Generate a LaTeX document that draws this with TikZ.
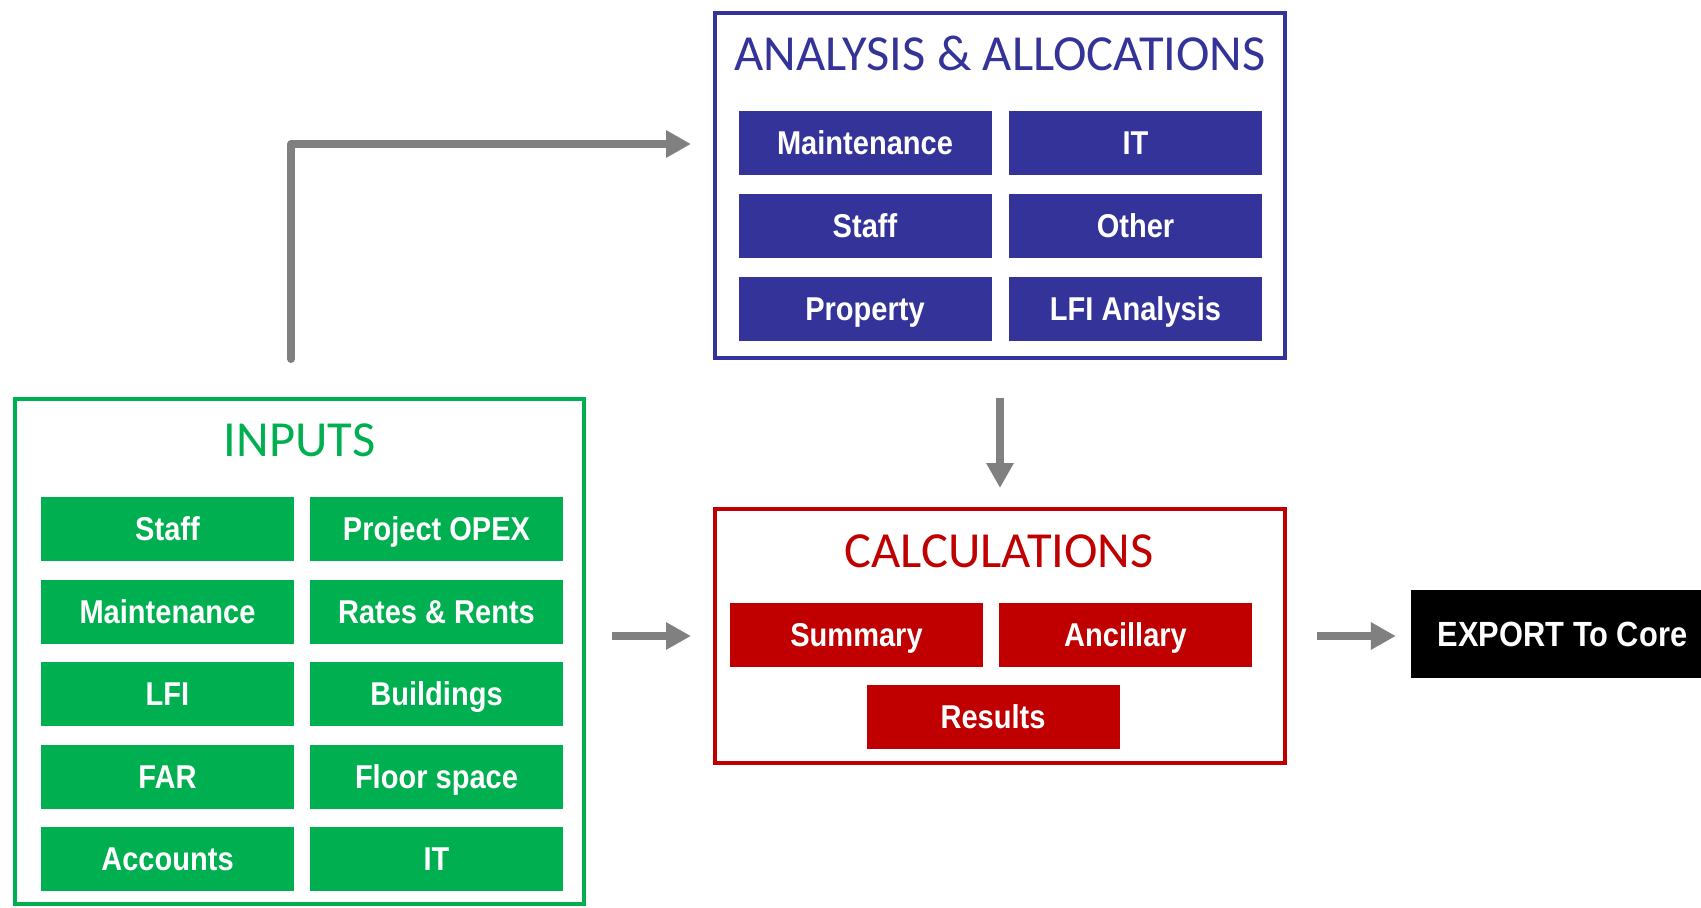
\documentclass[tikz,border=0pt]{standalone}
\usepackage{fontspec}
\setmainfont{Liberation Sans}
\newfontfamily\titlefont{Carlito}
\newfontfamily\cellfont[FakeStretch=0.88]{Liberation Sans}
\usetikzlibrary{arrows.meta}
\definecolor{ingreen}{HTML}{00B050}
\definecolor{anblue}{HTML}{333399}
\definecolor{calcred}{HTML}{C00000}
\definecolor{arrgray}{HTML}{808080}
\tikzset{
  frame/.style={draw, line width=4pt, fill=white, inner sep=0pt},
  cell/.style={inner sep=0pt, minimum width=253pt, minimum height=64pt, text=white,
    text height=23.6pt, text depth=0pt,
    font=\cellfont\bfseries\fontsize{33}{36}\selectfont},
  gcell/.style={cell, fill=ingreen},
  bcell/.style={cell, fill=anblue},
  rcell/.style={cell, fill=calcred},
  ttl/.style={inner sep=0pt, text height=32.5pt, text depth=0pt,
    font=\titlefont\fontsize{50.5}{56}\selectfont},
  arr/.style={draw=arrgray, line width=8pt, line join=round,
    -{Triangle[length=25pt,width=26pt]}}
}
\begin{document}
\begin{tikzpicture}[x=1pt,y=-1pt]
\path[use as bounding box] (0,0) rectangle (1701,908);

% boxes
\node[frame, draw=ingreen, minimum width=569pt, minimum height=505pt] (inputs) at (299.5,651.5) {};
\node[frame, draw=anblue, minimum width=570pt, minimum height=345pt] (analysis) at (1000,185.5) {};
\node[frame, draw=calcred, minimum width=570pt, minimum height=254pt] (calc) at (1000,636) {};
\node[inner sep=0pt, fill=black, minimum width=303pt, minimum height=88pt, text=white,
  text height=25pt, text depth=0pt,
  font=\cellfont\bfseries\fontsize{35}{38}\selectfont] (export) at (1562.5,634) {EXPORT To Core};

% titles
\node[ttl, text=ingreen] (tin) at (299.5,440) {INPUTS};
\node[ttl, text=anblue] (tan) at (1000,54) {ANALYSIS \& ALLOCATIONS};
\node[ttl, text=calcred] (tca) at (999,551) {CALCULATIONS};

% inputs cells
\node[gcell] (i11) at (167.5,529) {Staff};
\node[gcell] (i12) at (436.5,529) {Project OPEX};
\node[gcell] (i21) at (167.5,611.5) {Maintenance};
\node[gcell] (i22) at (436.5,611.5) {Rates \& Rents};
\node[gcell] (i31) at (167.5,694) {LFI};
\node[gcell] (i32) at (436.5,694) {Buildings};
\node[gcell] (i41) at (167.5,776.5) {FAR};
\node[gcell] (i42) at (436.5,776.5) {Floor space};
\node[gcell] (i51) at (167.5,859) {Accounts};
\node[gcell] (i52) at (436.5,859) {IT};

% analysis cells
\node[bcell] (a11) at (865,143) {Maintenance};
\node[bcell] (a12) at (1135.5,143) {IT};
\node[bcell] (a21) at (865,225.5) {Staff};
\node[bcell] (a22) at (1135.5,225.5) {Other};
\node[bcell] (a31) at (865,309) {Property};
\node[bcell] (a32) at (1135.5,309) {LFI Analysis};

% calculation cells
\node[rcell] (c11) at (856.5,634.5) {Summary};
\node[rcell] (c12) at (1125.5,634.5) {Ancillary};
\node[rcell] (c21) at (993,717) {Results};

% connectors
\coordinate (e0) at (291,359);
\coordinate (e1) at (691,144);
\draw[arr, line cap=round] (e0) |- (e1);
\coordinate (d0) at (1000,398);
\draw[arr, shorten >=19pt] (d0) -- (d0 |- calc.north);
\coordinate (h0) at (612,636);
\draw[arr, shorten >=22pt] (h0) -- (calc.west);
\draw[arr, shorten <=30pt, shorten >=15pt] (calc.east) -- (export.west |- calc.east);
\end{tikzpicture}
\end{document}
